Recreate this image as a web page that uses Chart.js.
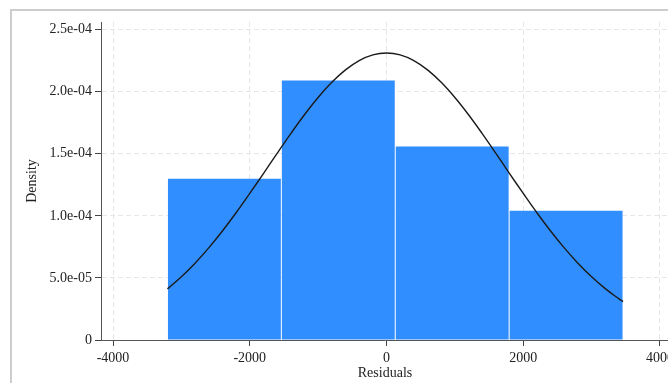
<!DOCTYPE html>
<html>
<head>
<meta charset="utf-8">
<script src="https://cdn.jsdelivr.net/npm/chart.js@4"></script>
<style>
    html, body { margin: 0; padding: 0; background: #fff; overflow: hidden; }
    #wrap { position: relative; width: 668px; height: 383px; overflow: hidden; }
    #frame { position: absolute; left: 10px; top: 9px; width: 720px; height: 400px; border: 2px solid #cdcdcd; }
    #chart { position: absolute; left: 0; top: 0; }
</style>
</head>
<body>
<div id="wrap">
    <div id="frame"></div>
    <canvas id="chart" width="700" height="383"></canvas>
</div>
<script>
// histogram bins (centres) and density
const binCenters = [-2371, -705, 961, 2627];
const binDensity = [1.304e-4, 2.094e-4, 1.562e-4, 1.046e-4];

// normal curve
const curveX = [-3204, -3000, -2800, -2600, -2400, -2200, -2000, -1800, -1600, -1400, -1200, -1000, -800, -600, -400, -200,
    0, 200, 400, 600, 800, 1000, 1200, 1400, 1600, 1800, 2000, 2200, 2400, 2600, 2800, 3000, 3200, 3400, 3460];
const curveY = [4.12e-5, 5.10e-5, 6.19e-5, 7.42e-5, 8.78e-5, 1.025e-4, 1.181e-4, 1.341e-4, 1.504e-4, 1.663e-4, 1.815e-4, 1.954e-4, 2.076e-4, 2.176e-4, 2.251e-4, 2.297e-4,
    2.312e-4, 2.297e-4, 2.251e-4, 2.176e-4, 2.076e-4, 1.954e-4, 1.815e-4, 1.663e-4, 1.504e-4, 1.341e-4, 1.181e-4, 1.025e-4, 8.78e-5, 7.42e-5, 6.19e-5, 5.10e-5, 4.14e-5, 3.31e-5, 3.09e-5];

const xTicks = [-4000, -2000, 0, 2000, 4000];
const xTickLabels = ['-4000', '-2000', '0', '2000', '4000'];
const yTicks = [0, 5e-5, 1e-4, 1.5e-4, 2e-4, 2.5e-4];
const yTickLabels = ['0', '5.0e-05', '1.0e-04', '1.5e-04', '2.0e-04', '2.5e-04'];

const font = { family: 'Liberation Serif', size: 14 };
const gridColor = '#e6e6e6';

new Chart(document.getElementById('chart'), {
    type: 'bar',
    data: {
        datasets: [{
            type: 'line',
            data: curveX.map((x, i) => ({ x: x, y: curveY[i] })),
            borderColor: '#1a1a1a',
            borderWidth: 1.4,
            pointRadius: 0,
            tension: 0.4,
            fill: false
        }, {
            type: 'bar',
            data: binCenters.map((x, i) => ({ x: x, y: binDensity[i] })),
            backgroundColor: '#318efe',
            borderColor: 'rgba(255,255,255,0.2)',
            borderWidth: 1,
            inflateAmount: 0.5,
            barPercentage: 1,
            categoryPercentage: 1
        }]
    },
    options: {
        responsive: false,
        animation: false,
        layout: { padding: { top: 22, right: 31, left: 0, bottom: 0 } },
        plugins: { legend: { display: false }, tooltip: { enabled: false } },
        scales: {
            x: {
                type: 'linear',
                min: -4176,
                max: 4132,
                offset: false,
                afterFit: s => { s.height = 43; },
                afterBuildTicks: s => { s.ticks = xTicks.map(v => ({ value: v })); },
                grid: { color: gridColor, offset: false, tickColor: '#444', tickLength: 6 },
                border: { color: '#555', width: 1, dash: [5, 3] },
                ticks: { font: font, color: '#222', padding: 4, maxRotation: 0, callback: (v, i) => xTickLabels[i] },
                title: { display: true, text: 'Residuals', font: font, color: '#222', padding: { top: 0, bottom: 1 } }
            },
            y: {
                min: 0,
                max: 2.562e-4,
                afterFit: s => { s.width = 101; },
                afterBuildTicks: s => { s.ticks = yTicks.map(v => ({ value: v })); },
                grid: { color: gridColor, tickColor: '#444', tickLength: 6 },
                border: { color: '#555', width: 1, dash: [5, 3] },
                ticks: { font: font, color: '#222', padding: 3, callback: (v, i) => yTickLabels[i] },
                title: { display: true, text: 'Density', font: font, color: '#222', padding: { top: 24, bottom: 0 } }
            }
        }
    }
});
</script>
</body>
</html>
